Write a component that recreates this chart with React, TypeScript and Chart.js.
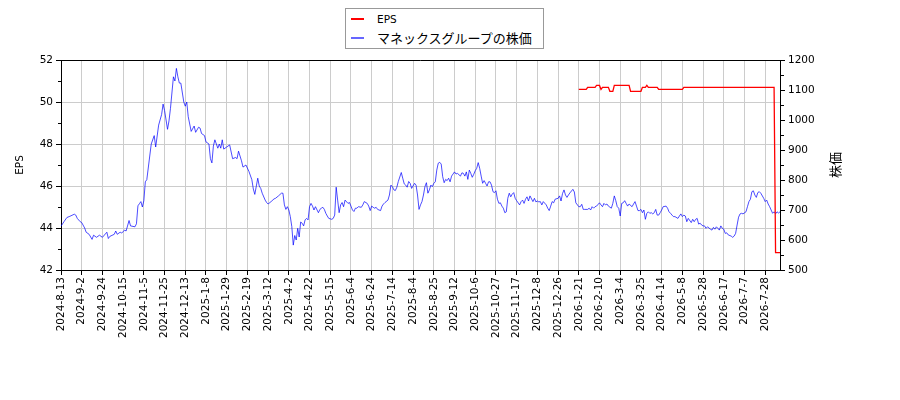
import { useEffect, useRef } from 'react';
import { Chart, registerables } from 'chart.js';

Chart.register(...registerables);

// x axis = trading-day index, a label every 14 days
const tickLabels = [
  '2024-8-13', '2024-9-2', '2024-9-24', '2024-10-15', '2024-11-5', '2024-11-25', '2024-12-13',
  '2025-1-8', '2025-1-29', '2025-2-19', '2025-3-12', '2025-4-2', '2025-4-22', '2025-5-15',
  '2025-6-4', '2025-6-24', '2025-7-14', '2025-8-4', '2025-8-25', '2025-9-12', '2025-10-6',
  '2025-10-27', '2025-11-17', '2025-12-8', '2025-12-26', '2026-1-21', '2026-2-10', '2026-3-4',
  '2026-3-25', '2026-4-14', '2026-5-8', '2026-5-28', '2026-6-17', '2026-7-7', '2026-7-28',
];
const tickEvery = 14;
const lastDay = 486;

const priceDays = [
  0, 2, 4, 6, 9, 10, 11, 13, 14, 16,
  17, 19, 21, 22, 24, 26, 28, 31, 32, 33,
  36, 37, 38, 40, 41, 43, 44, 46, 47, 50,
  51, 52, 53, 54, 55, 56, 57, 58, 61, 63,
  64, 66, 68, 69, 70, 72, 73, 74, 76, 77,
  78, 79, 80, 81, 83, 84, 85, 86, 88, 90,
  91, 93, 94, 95, 97, 98, 100, 101, 102, 103,
  104, 106, 107, 108, 109, 110, 112, 114, 116, 118,
  119, 120, 122, 123, 125, 127, 129, 130, 131, 133,
  134, 135, 136, 138, 139, 140, 142, 144, 145, 147,
  149, 150, 151, 152, 153, 154, 155, 156, 157, 158,
  159, 160, 161, 162, 163, 164, 165, 166, 167, 168,
  169, 170, 171, 172, 174, 175, 176, 177, 178, 179,
  180, 181, 183, 184, 185, 186, 187, 188, 189, 190,
  191, 192, 194, 195, 196, 197, 198, 199, 200, 201,
  203, 204, 205, 207, 208, 209, 210, 211, 212, 213,
  214, 216, 217, 218, 219, 221, 222, 223, 224, 225,
  226, 227, 228, 230, 231, 232, 233, 234, 235, 236,
  237, 239, 240, 241, 242, 243, 244, 245, 246, 247,
  248, 249, 250, 251, 252, 253, 254, 255, 256, 257,
  258, 259, 260, 261, 262, 263, 264, 265, 266, 267,
  268, 270, 271, 272, 273, 274, 275, 276, 277, 278,
  279, 280, 281, 282, 283, 284, 285, 286, 287, 288,
  289, 290, 291, 292, 293, 294, 295, 296, 297, 298,
  299, 300, 301, 302, 303, 304, 305, 306, 307, 308,
  310, 311, 312, 313, 314, 315, 316, 317, 319, 320,
  321, 322, 323, 324, 325, 326, 328, 329, 330, 331,
  332, 333, 334, 336, 337, 338, 339, 340, 341, 342,
  343, 344, 346, 347, 348, 350, 351, 352, 353, 354,
  356, 357, 358, 359, 360, 361, 362, 364, 365, 366,
  367, 368, 369, 370, 372, 373, 374, 375, 376, 377,
  378, 379, 380, 381, 382, 383, 384, 386, 387, 388,
  389, 390, 391, 392, 393, 394, 395, 396, 397, 398,
  399, 400, 401, 402, 403, 404, 405, 406, 407, 409,
  410, 411, 412, 413, 414, 415, 417, 418, 419, 420,
  421, 422, 423, 424, 426, 427, 428, 429, 430, 431,
  432, 433, 434, 435, 436, 437, 439, 440, 441, 442,
  443, 444, 445, 446, 447, 448, 449, 450, 451, 453,
  454, 455, 456, 457, 458, 459, 460, 461, 463, 464,
  465, 466, 467, 468, 469, 470, 471, 472, 473, 475,
  476, 477, 478, 479, 480, 481, 482, 483, 484, 485, 486,
];
const priceValues = [
  646, 661, 675, 679, 686, 683, 672, 661, 658, 640,
  626, 619, 602, 616, 609, 616, 609, 626, 605, 612,
  619, 630, 619, 626, 623, 633, 630, 665, 647, 644,
  654, 714, 721, 728, 710, 731, 794, 801, 920, 948,
  910, 983, 1018, 1053, 1032, 969, 997, 1039, 1144, 1130,
  1172, 1144, 1123, 1123, 1060, 1046, 1060, 1011, 962, 980,
  959, 976, 973, 955, 948, 927, 920, 871, 857, 913,
  934, 906, 920, 906, 934, 903, 910, 917, 871, 875,
  871, 896, 864, 843, 850, 829, 801, 770, 752, 806,
  780, 772, 756, 733, 725, 720, 728, 737, 739, 747,
  756, 756, 717, 702, 711, 700, 678, 645, 583, 615,
  600, 639, 610, 660, 656, 647, 667, 672, 667, 711,
  722, 713, 700, 711, 691, 702, 706, 709, 702, 689,
  680, 672, 669, 672, 683, 776, 733, 691, 717, 725,
  711, 733, 722, 725, 713, 700, 695, 706, 706, 711,
  709, 717, 728, 722, 713, 698, 713, 709, 706, 709,
  702, 698, 713, 720, 725, 733, 750, 783, 778, 767,
  765, 776, 795, 825, 806, 787, 783, 776, 795, 789,
  772, 789, 783, 750, 702, 717, 728, 750, 778, 791,
  756, 767, 783, 778, 789, 794, 833, 856, 859, 853,
  811, 791, 802, 798, 806, 794, 813, 820, 827, 820,
  822, 813, 824, 822, 813, 827, 802, 833, 822, 809,
  819, 831, 839, 858, 839, 813, 789, 798, 789, 780,
  794, 794, 783, 761, 758, 764, 736, 722, 724, 713,
  706, 691, 694, 739, 756, 744, 753, 758, 739, 731,
  717, 728, 733, 722, 736, 744, 730, 747, 728, 739,
  727, 730, 727, 728, 717, 728, 717, 706, 698, 713,
  728, 724, 736, 739, 747, 730, 755, 767, 750, 742,
  750, 757, 769, 760, 724, 711, 711, 719, 702, 702,
  702, 706, 700, 711, 706, 711, 713, 724, 717, 711,
  722, 717, 720, 713, 706, 722, 747, 731, 711, 706,
  680, 722, 724, 731, 722, 713, 720, 711, 720, 728,
  713, 698, 698, 702, 691, 700, 669, 689, 694, 689,
  691, 687, 691, 702, 683, 683, 691, 700, 711, 713,
  706, 694, 689, 683, 678, 678, 672, 680, 687, 678,
  683, 680, 661, 672, 658, 669, 661, 669, 672, 653,
  656, 650, 647, 647, 639, 644, 636, 633, 642, 636,
  644, 639, 633, 647, 639, 636, 622, 624, 617, 613,
  609, 613, 622, 650, 676, 687, 689, 687, 694, 711,
  728, 736, 761, 764, 750, 742, 758, 761, 756, 739,
  728, 733, 720, 711, 700, 689, 694, 687, 694, 690, 694,
];

// EPS: days where the value starts / ends a level
const epsDays = [
  350, 355, 356, 361, 362, 364, 365, 366, 370, 371,
  373, 374, 384, 385, 392, 393, 395, 396, 397, 403,
  404, 420, 421, 482, 483, 486,
];
const epsValues = [
  50.6, 50.6, 50.7, 50.7, 50.79, 50.79, 50.6, 50.7, 50.7, 50.51,
  50.51, 50.79, 50.79, 50.51, 50.51, 50.7, 50.7, 50.79, 50.7, 50.7,
  50.6, 50.6, 50.7, 50.7, 42.83, 42.83,
];

const GRID = '#cccccc';
const LATIN = '"DejaVu Sans", sans-serif';
const CJK = '"Noto Sans CJK JP", sans-serif';

const frameAndTitles = {
  id: 'frameAndTitles',
  afterDraw(chart: any) {
    const { ctx, chartArea } = chart;
    const midY = (chartArea.top + chartArea.bottom) / 2;
    ctx.save();
    ctx.strokeStyle = '#000';
    ctx.lineWidth = 1;
    ctx.beginPath();
    ctx.moveTo(chartArea.left, Math.round(chartArea.top) + 0.5);
    ctx.lineTo(chartArea.right, Math.round(chartArea.top) + 0.5);
    ctx.stroke();

    ctx.fillStyle = '#000';
    ctx.textAlign = 'center';
    ctx.textBaseline = 'middle';
    ctx.translate(20, midY);
    ctx.rotate(-Math.PI / 2);
    ctx.font = `10.5px ${LATIN}`;
    ctx.fillText('EPS', 0, 0);
    ctx.restore();

    ctx.save();
    ctx.fillStyle = '#000';
    ctx.textAlign = 'center';
    ctx.textBaseline = 'middle';
    ctx.translate(835, midY);
    ctx.rotate(-Math.PI / 2);
    ctx.font = `13px ${CJK}`;
    ctx.fillText('株価', 0, 0);
    ctx.restore();
  },
};

export default function App() {
  const chartRef = useRef<HTMLCanvasElement>(null);
  const chartInstance = useRef<Chart | null>(null);

  useEffect(() => {
    if (!chartRef.current) return;
    if (chartInstance.current) chartInstance.current.destroy();

    Chart.defaults.font.family = LATIN;
    Chart.defaults.font.size = 10.5;
    Chart.defaults.color = '#000';

    chartInstance.current = new Chart(chartRef.current, {
      type: 'line',
      data: {
        datasets: [
          {
            label: 'EPS',
            data: epsDays.map((d, i) => ({ x: d, y: epsValues[i] })),
            borderColor: '#ff0000',
            borderWidth: 1.3,
            pointRadius: 0,
            tension: 0,
            yAxisID: 'y',
          },
          {
            label: 'マネックスグループの株価',
            data: priceDays.map((d, i) => ({ x: d, y: priceValues[i] })),
            borderColor: 'rgba(0, 0, 255, 0.7)',
            borderWidth: 1,
            pointRadius: 0,
            tension: 0,
            yAxisID: 'y1',
          },
        ],
      },
      options: {
        responsive: false,
        animation: false,
        layout: { padding: { top: 60, left: 0, right: 0, bottom: 0 } },
        plugins: {
          legend: { display: false },
          tooltip: { enabled: false },
        },
        scales: {
          x: {
            type: 'linear',
            min: 0,
            max: lastDay,
            afterBuildTicks: (s: any) => {
              s.ticks = tickLabels.map((_, i) => ({ value: i * tickEvery }));
            },
            afterFit: (s: any) => {
              s.height = 130;
            },
            ticks: {
              autoSkip: false,
              maxRotation: 90,
              minRotation: 90,
              padding: 2,
              callback: (v: any) => tickLabels[Math.round(Number(v) / tickEvery)] ?? '',
            },
            grid: { color: GRID, tickColor: '#000', tickLength: 5 },
            border: { color: '#000' },
          },
          y: {
            position: 'left',
            min: 42,
            max: 52,
            afterFit: (s: any) => {
              s.width = 61;
            },
            ticks: {
              stepSize: 1,
              autoSkip: false,
              padding: 3,
              callback: (v: any) => (Number(v) % 2 === 0 ? String(v) : ''),
            },
            grid: {
              color: (c: any) => (c.tick && c.tick.value % 2 === 0 ? GRID : 'rgba(0,0,0,0)'),
              tickColor: '#000',
              tickLength: 5,
              tickBorderDash: (c: any) => (c.tick && c.tick.value % 2 === 0 ? [] : [0, 2, 3, 20]),
            },
            border: { color: '#000' },
          },
          y1: {
            position: 'right',
            min: 500,
            max: 1200,
            afterFit: (s: any) => {
              s.width = 120;
            },
            ticks: {
              stepSize: 50,
              autoSkip: false,
              padding: 3,
              callback: (v: any) => (Number(v) % 100 === 0 ? String(v) : ''),
            },
            grid: {
              drawOnChartArea: false,
              tickColor: '#000',
              tickLength: 5,
              tickBorderDash: (c: any) => (c.tick && c.tick.value % 100 === 0 ? [] : [3, 20]),
            },
            border: { color: '#000' },
          },
        },
      } as any,
      plugins: [frameAndTitles],
    });

    return () => {
      if (chartInstance.current) {
        chartInstance.current.destroy();
        chartInstance.current = null;
      }
    };
  }, []);

  return (
    <div style={{ position: 'absolute', left: 0, top: 0, width: 900, height: 400, background: '#fff' }}>
      <canvas ref={chartRef} width={900} height={400} />
      <div
        style={{
          position: 'absolute',
          left: 345,
          top: 8,
          width: 197,
          height: 39,
          border: '1px solid #999',
          background: '#fff',
        }}
      >
        <div style={{ position: 'absolute', left: 5, top: 9, width: 13, height: 1.5, background: '#ff0000' }} />
        <div
          style={{
            position: 'absolute',
            left: 31,
            top: 1,
            lineHeight: '18px',
            fontFamily: LATIN,
            fontSize: 10.5,
            color: '#000',
          }}
        >
          EPS
        </div>
        <div style={{ position: 'absolute', left: 5, top: 28, width: 13, height: 1.5, background: 'rgba(0,0,255,0.6)' }} />
        <div
          style={{
            position: 'absolute',
            left: 31,
            top: 19,
            lineHeight: '20px',
            fontFamily: CJK,
            fontSize: 13,
            color: '#000',
            whiteSpace: 'nowrap',
          }}
        >
          マネックスグループの株価
        </div>
      </div>
    </div>
  );
}
